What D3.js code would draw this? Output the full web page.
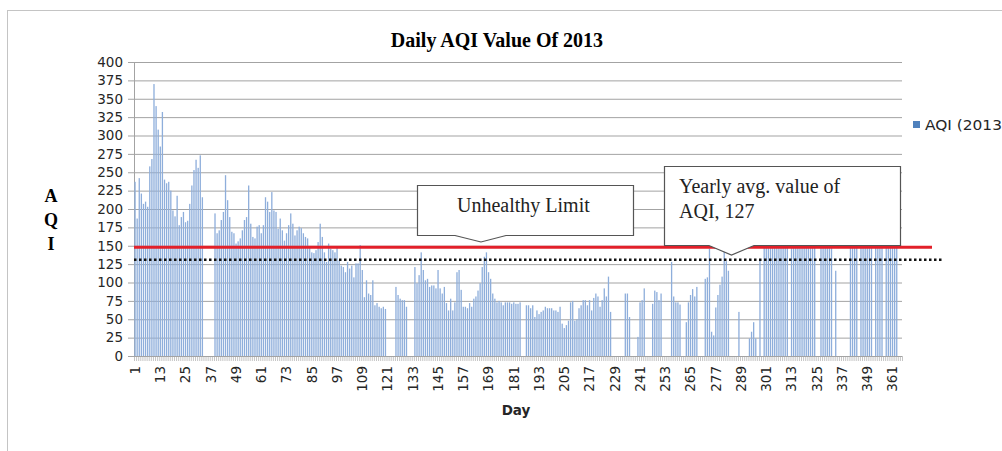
<!DOCTYPE html>
<html>
<head>
<meta charset="utf-8">
<script src="https://cdn.jsdelivr.net/npm/d3@7"></script>
<style>
body { margin: 0; background: #fff; }
svg { display: block; }
</style>
</head>
<body>
<svg id="chart" width="1002" height="451"></svg>
<script>
// y axis ticks and x axis labels (every 12th day)
const yTicks = [0, 25, 50, 75, 100, 125, 150, 175, 200, 225, 250, 275, 300, 325, 350, 375, 400];
const dayTicks = [1, 13, 25, 37, 49, 61, 73, 85, 97, 109, 121, 133, 145, 157, 169, 181, 193, 205, 217, 229, 241, 253, 265, 277, 289, 301, 313, 325, 337, 349, 361];

// daily AQI, day 1..365 (null = no reading)
const aqi = [
  // 1-33
  237,187,242,221,207,210,203,258,268,370,340,308,285,332,240,235,237,225,198,190,218,178,189,196,182,184,207,232,253,267,256,273,216,
  // 34-38
  null,null,null,null,null,
  // 39-65
  194,167,171,185,196,246,212,189,169,167,153,156,160,171,185,189,232,180,162,160,176,178,167,178,216,210,196,
  // 66-83
  223,198,196,173,187,171,157,167,178,194,180,164,171,176,174,167,162,160,
  // 84-120
  148,141,140,144,155,180,162,141,128,153,146,144,141,148,130,123,121,114,128,119,123,107,126,126,151,117,80,103,85,83,103,69,72,67,65,67,64,
  // 121-133
  null,null,null,null, 94,83,78,76,76,67, null,null,null,
  // 134-184
  121,99,110,141,117,103,105,94,96,96,92,117,92,85,94,72,62,78,62,73,114,117,90,67,67,65,72,67,78,81,89,99,121,135,141,114,105,85,78,73,75,73,69,73,73,73,71,73,71,71,73,
  // 185-195
  null,null, 69,69,65,69,53,62,57,60,62,
  // 196-227
  67,65,65,65,62,62,60,67,44,38,42,48,73,75,48,50,65,69,76,76,69,76,62,79,85,81,67,76,92,81,108,60,
  // 228-263
  null,null,null,null,null,null, 85,85,53, null,null,null, 26,73,76,92, null,null,null, 71,89,87,76,85, null,null,null,null, 128,81,73,73,70, null,null, 46,
  // 264-299
  73,83,91,81,94, null,null,null, 105,107,146,33,28,66,83,97,108,143,129,116, null,null,null,null, 60, null,null,null,null, 24,33,46,24, null, 130, null,
  // 300-334
  182,205,236,198,221,247,190,214,233,176,209,242, null, 226,193,251,207,184,238,219,172,245,203,229,188, null,null, 214,241,196,223,179,206, null, 116,
  // 335-365
  null,null,null,null,null,null, 198,232,211,245,null,187,226,204,249,215,193,null,238,207,182,229,null,244,201,219,236,190,213, null,null
];
const days = aqi.map((v, i) => i + 1);
const seriesName = "AQI (2013)";

// reference levels as drawn on the chart
const unhealthyLevel = 148;
const avgLevel = 131;
const avgLabel = 127;

const serif = "'Liberation Serif','Times New Roman',serif";
const sans = "'DejaVu Sans',sans-serif";

const svg = d3.select("#chart"),
  margin = {top: 62, right: 100, bottom: 95, left: 134},
  width = 1002 - margin.left - margin.right,
  height = 451 - margin.top - margin.bottom;

// chart area border
svg.append("rect")
  .attr("x", 7.5).attr("y", 10.5)
  .attr("width", 1100).attr("height", 600)
  .attr("fill", "#fff").attr("stroke", "#c4c4c4");

svg.append("text")
  .attr("x", 497).attr("y", 47)
  .attr("text-anchor", "middle")
  .style("font-family", serif).style("font-weight", "bold").style("font-size", "20px")
  .text("Daily AQI Value Of 2013");

const x = d3.scaleBand().domain(days).range([0, width]).paddingInner(0.38).paddingOuter(0.19);
const y = d3.scaleLinear().domain([0, 400]).range([height, 0]);

const g = svg.append("g").attr("transform", `translate(${margin.left},${margin.top})`);

// gridlines + y ticks
g.append("g")
  .attr("class", "axis axis-y")
  .call(d3.axisLeft(y).tickValues(yTicks).tickSize(-width).tickPadding(11).tickSizeOuter(0))
  .call(a => a.select(".domain").remove())
  .call(a => a.selectAll(".tick line")
    .attr("x1", -6).attr("stroke", "#a3a3a3"))
  .call(a => a.selectAll(".tick text")
    .style("font-family", sans).style("font-size", "13.5px").attr("fill", "#262626"));

g.append("line")
  .attr("x1", 0.5).attr("x2", 0.5).attr("y1", 0).attr("y2", height)
  .attr("stroke", "#a3a3a3");

// bars
g.selectAll(".bar")
  .data(days.filter(d => aqi[d - 1] != null))
  .enter().append("rect")
  .attr("class", "bar")
  .attr("x", d => x(d))
  .attr("y", d => y(aqi[d - 1]))
  .attr("width", x.bandwidth())
  .attr("height", d => height - y(aqi[d - 1]))
  .attr("fill", "#8eaedb");

// category tick marks on the x axis
g.append("g")
  .selectAll("line")
  .data(days.concat([days.length + 1]))
  .enter().append("line")
  .attr("x1", d => (d - 1) * x.step() + 0.5)
  .attr("x2", d => (d - 1) * x.step() + 0.5)
  .attr("y1", height).attr("y2", height + 5)
  .attr("stroke", "#b5b5b5").attr("stroke-width", 0.8);

g.append("line")
  .attr("x1", 0).attr("x2", width).attr("y1", height + 0.5).attr("y2", height + 0.5)
  .attr("stroke", "#a3a3a3");

// x labels, rotated
g.append("g")
  .attr("class", "axis axis-x")
  .selectAll("text")
  .data(dayTicks)
  .enter().append("text")
  .attr("transform", d => `translate(${x(d) + x.bandwidth() / 2},${height + 10}) rotate(-90)`)
  .attr("text-anchor", "end")
  .attr("dy", "0.36em")
  .style("font-family", sans).style("font-size", "13.5px").attr("fill", "#262626")
  .text(d => d);

svg.append("text")
  .attr("x", 516).attr("y", 415)
  .attr("text-anchor", "middle")
  .style("font-family", sans).style("font-weight", "bold").style("font-size", "13.5px")
  .attr("fill", "#262626")
  .text("Day");

// stacked y title
svg.append("g").selectAll("text")
  .data(["A", "Q", "I"])
  .enter().append("text")
  .attr("x", 51).attr("y", (d, i) => 202 + i * 24)
  .attr("text-anchor", "middle")
  .style("font-family", serif).style("font-weight", "bold").style("font-size", "18px")
  .text(d => d);

// reference lines
g.append("line")
  .attr("x1", 0).attr("x2", 798)
  .attr("y1", y(unhealthyLevel)).attr("y2", y(unhealthyLevel))
  .attr("stroke", "#e2202a").attr("stroke-width", 3);

g.append("line")
  .attr("x1", 0).attr("x2", 808)
  .attr("y1", y(avgLevel)).attr("y2", y(avgLevel))
  .attr("stroke", "#111").attr("stroke-width", 2.5)
  .attr("stroke-dasharray", "2.5,2.5");

// callouts
function callout(l, r, t, b, pl, pr, tx, ty) {
  const p = d3.path();
  p.moveTo(l, t); p.lineTo(r, t); p.lineTo(r, b);
  p.lineTo(pr, b); p.lineTo(tx, ty); p.lineTo(pl, b);
  p.lineTo(l, b); p.closePath();
  svg.append("path").attr("d", p.toString())
    .attr("fill", "#fff").attr("stroke", "#555").attr("stroke-width", 1.2);
}

callout(417.5, 633.5, 185.5, 235.5, 455, 506, 481, 242);
svg.append("text")
  .attr("x", 457).attr("y", 212)
  .style("font-family", serif).style("font-size", "20px").attr("fill", "#222")
  .text("Unhealthy Limit");

callout(664.5, 900.5, 166.5, 245.5, 709, 754, 731.5, 255);
svg.append("text")
  .attr("x", 679).attr("y", 193)
  .style("font-family", serif).style("font-size", "20px").attr("fill", "#222")
  .text("Yearly avg. value of");
svg.append("text")
  .attr("x", 679).attr("y", 218)
  .style("font-family", serif).style("font-size", "20px").attr("fill", "#222")
  .text(`AQI, ${avgLabel}`);

// legend (text runs off the right edge, as in the original)
svg.append("rect")
  .attr("x", 913).attr("y", 121).attr("width", 7).attr("height", 7)
  .attr("fill", "#4f81bd");
svg.append("text")
  .attr("transform", "translate(925,129.5) scale(1.1,1)")
  .style("font-family", sans).style("font-size", "14px").attr("fill", "#262626")
  .text(seriesName);
</script>
</body>
</html>
